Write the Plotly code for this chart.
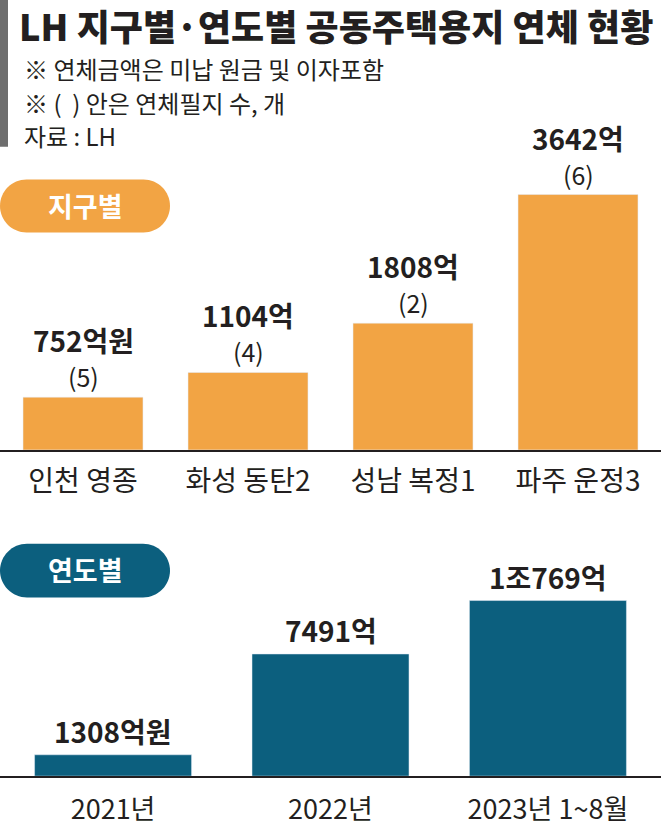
import plotly.graph_objects as go

# 지구별 (by district)
districts = ["인천 영종", "화성 동탄2", "성남 복정1", "파주 운정3"]
district_amounts = [752, 1104, 1808, 3642]  # 억원
district_amount_labels = ["752억원", "1104억", "1808억", "3642억"]
district_counts = [5, 4, 2, 6]  # 연체필지 수

# 연도별 (by year)
years = ["2021년", "2022년", "2023년 1~8월"]
year_amounts = [1308, 7491, 10769]  # 억원
year_amount_labels = ["1308억원", "7491억", "1조769억"]

W, H = 661, 827
FONT = "Noto Sans CJK KR"
ORANGE = "#F2A444"
TEAL = "#0C5F7E"
INK = "#231F20"


def fx(x):
    return x / W


def fy(y):
    return 1 - y / H


def pill(x0, y0, x1, y1, color):
    # stadium shape built from cubic curves, pixel coords -> paper coords
    r = (y1 - y0) / 2
    k = 0.5523 * r
    pts = [
        ("M", [(x0 + r, y0)]),
        ("L", [(x1 - r, y0)]),
        ("C", [(x1 - r + k, y0), (x1, y0 + r - k), (x1, y0 + r)]),
        ("C", [(x1, y0 + r + k), (x1 - r + k, y1), (x1 - r, y1)]),
        ("L", [(x0 + r, y1)]),
        ("C", [(x0 + r - k, y1), (x0, y0 + r + k), (x0, y0 + r)]),
        ("C", [(x0, y0 + r - k), (x0 + r - k, y0), (x0 + r, y0)]),
    ]
    path = " ".join(
        cmd + " " + " ".join(f"{fx(a):.5f},{fy(b):.5f}" for a, b in p) for cmd, p in pts
    ) + " Z"
    return dict(type="path", xref="paper", yref="paper", path=path,
                fillcolor=color, line=dict(width=0), layer="below")


fig = go.Figure()

fig.add_trace(go.Bar(x=districts, y=district_amounts, marker_color=ORANGE,
                     width=0.727, xaxis="x", yaxis="y", hoverinfo="skip"))
fig.add_trace(go.Bar(x=years, y=year_amounts, marker_color=TEAL,
                     width=0.722, xaxis="x2", yaxis="y2", hoverinfo="skip"))

annotations = []
for d, v, lab, c in zip(districts, district_amounts, district_amount_labels, district_counts):
    annotations.append(dict(x=d, y=v, xref="x", yref="y", text=lab, showarrow=False,
                            yanchor="middle", yshift=57,
                            font=dict(family=FONT, size=28, color=INK, weight="bold")))
    annotations.append(dict(x=d, y=v, xref="x", yref="y", text=f"({c})", showarrow=False,
                            yanchor="middle", yshift=21,
                            font=dict(family=FONT, size=25, color=INK)))
for yr, v, lab in zip(years, year_amounts, year_amount_labels):
    annotations.append(dict(x=yr, y=v, xref="x2", yref="y2", text=lab, showarrow=False,
                            yanchor="middle", yshift=24,
                            font=dict(family=FONT, size=28, color=INK, weight="bold")))

# header text
annotations += [
    dict(x=fx(19), y=fy(25), xref="paper", yref="paper", xanchor="left", yanchor="middle",
         text="LH 지구별·연도별 공동주택용지 연체 현황", showarrow=False,
         borderpad=0, borderwidth=0,
         font=dict(family=FONT, size=36, color=INK, weight=900)),
    dict(x=fx(22), y=fy(69), xref="paper", yref="paper", xanchor="left", yanchor="middle",
         text="※ 연체금액은 미납 원금 및 이자포함", showarrow=False,
         font=dict(family=FONT, size=24, color=INK)),
    dict(x=fx(22), y=fy(103), xref="paper", yref="paper", xanchor="left", yanchor="middle",
         text="※ (  ) 안은 연체필지 수, 개", showarrow=False,
         font=dict(family=FONT, size=24, color=INK)),
    dict(x=fx(22), y=fy(136), xref="paper", yref="paper", xanchor="left", yanchor="middle",
         text="자료 : LH", showarrow=False,
         font=dict(family=FONT, size=24, color=INK)),
    dict(x=fx(85), y=fy(206), xref="paper", yref="paper", xanchor="center", yanchor="middle",
         text="지구별", showarrow=False,
         font=dict(family=FONT, size=27, color="white", weight="bold")),
    dict(x=fx(85), y=fy(571), xref="paper", yref="paper", xanchor="center", yanchor="middle",
         text="연도별", showarrow=False,
         font=dict(family=FONT, size=27, color="white", weight="bold")),
]

shapes = [
    dict(type="rect", xref="paper", yref="paper", x0=0, x1=fx(8), y0=fy(147), y1=1,
         fillcolor="#6E6E6E", line=dict(width=0)),
    pill(0, 180, 170, 233, ORANGE),
    pill(0, 545, 170, 599, TEAL),
]

axis_common = dict(showgrid=False, zeroline=False, showline=True, linecolor=INK,
                   linewidth=1.5, ticks="", fixedrange=True)

fig.update_layout(
    width=W, height=H,
    margin=dict(l=0, r=0, t=0, b=0),
    paper_bgcolor="white", plot_bgcolor="white",
    showlegend=False,
    font=dict(family=FONT, color=INK),
    xaxis=dict(domain=[0, 1], anchor="y", range=[-0.503, 3.503],
               tickfont=dict(family=FONT, size=28, color=INK), ticklabelstandoff=6,
               **axis_common),
    yaxis=dict(domain=[fy(451), fy(150)], anchor="x", range=[0, 3642 * 301 / 256],
               visible=False, fixedrange=True),
    xaxis2=dict(domain=[0, 1], anchor="y2", range=[-0.52, 2.52],
                tickfont=dict(family=FONT, size=27, color=INK), ticklabelstandoff=9,
                **axis_common),
    yaxis2=dict(domain=[fy(778), fy(560)], anchor="x2", range=[0, 10769 * 218 / 176],
                visible=False, fixedrange=True),
    annotations=annotations,
    shapes=shapes,
)

fig.write_html("out.html", config={"displayModeBar": False},
               post_script="document.body.style.margin='0';document.body.style.overflow='hidden';")
